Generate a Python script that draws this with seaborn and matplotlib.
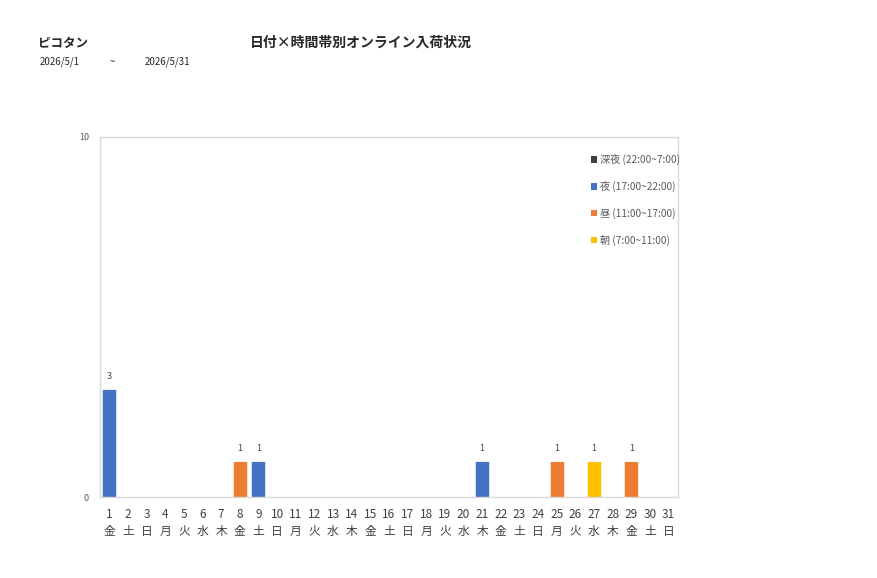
import pandas as pd
import matplotlib.pyplot as plt
import seaborn as sns
from matplotlib.patches import Patch

# chart data
days = [str(d) for d in range(1, 32)]
weekdays = ['金', '土', '日', '月', '火', '水', '木'] * 4 + ['金', '土', '日']
asa = [0] * 31      # 朝 (7:00~11:00)
hiru = [0] * 31     # 昼 (11:00~17:00)
yoru = [0] * 31     # 夜 (17:00~22:00)
shinya = [0] * 31   # 深夜 (22:00~7:00)
yoru[0] = 3
hiru[7] = 1
yoru[8] = 1
yoru[20] = 1
hiru[24] = 1
asa[26] = 1
hiru[28] = 1

series_names = ['朝 (7:00~11:00)', '昼 (11:00~17:00)', '夜 (17:00~22:00)', '深夜 (22:00~7:00)']
series_values = [asa, hiru, yoru, shinya]
series_colors = ['#FFC000', '#ED7D31', '#4472C4', '#404040']

sns.set_theme(style='white')
plt.rcParams['font.family'] = ['Noto Sans CJK JP', 'DejaVu Sans']

fig = plt.figure(figsize=(8.77, 5.78), dpi=100)
ax = fig.add_axes([0.114, 0.140, 0.659, 0.623])

# stack the series one on top of the other
df = pd.DataFrame({'day': days})
bottom = [0] * 31
for name, vals, color in zip(series_names, series_values, series_colors):
    df[name] = vals
    sns.barplot(data=df, x='day', y=name, order=days, color=color, width=0.75,
                bottom=bottom, ax=ax, saturation=1, edgecolor='white', linewidth=0.4)
    bottom = [b + v for b, v in zip(bottom, vals)]

# totals above bars
for i, total in enumerate(bottom):
    if total > 0:
        ax.text(i, total + 0.22, str(total), ha='center', va='bottom', fontsize=6.5, color='#404040')

ax.set_xlim(-0.5, 30.5)
ax.set_ylim(0, 10)
ax.set_yticks([0, 10])
ax.set_yticklabels(['0', '10'], fontsize=6.5, color='#595959')
ax.set_xticks(range(31))
ax.set_xticklabels([f'{d}\n{w}' for d, w in zip(days, weekdays)], fontsize=8.5, color='#404040',
                   linespacing=1.35)
ax.tick_params(axis='x', length=0, pad=8)
ax.tick_params(axis='y', length=0, pad=8)
ax.set_xlabel('')
ax.set_ylabel('')
for sp in ax.spines.values():
    sp.set_color('#d9d9d9')
    sp.set_linewidth(1)

# legend (top item first)
handles = [Patch(facecolor=c, edgecolor='none') for c in series_colors[::-1]]
fig.legend(handles, series_names[::-1], loc='upper left', bbox_to_anchor=(0.663, 0.749),
           frameon=False, fontsize=7.3, labelcolor='#595959', handlelength=0.6, handleheight=0.6,
           handletextpad=0.35, labelspacing=1.55)

# titles
fig.text(38 / 877, 1 - 43 / 578, 'ピコタン', fontsize=9, fontweight='bold', va='center')
fig.text(250 / 877, 1 - 43 / 578, '日付×時間帯別オンライン入荷状況', fontsize=10, fontweight='bold', va='center')
fig.text(40 / 877, 1 - 62 / 578, '2026/5/1', fontsize=7, va='center')
fig.text(110 / 877, 1 - 62 / 578, '~', fontsize=7, va='center')
fig.text(145 / 877, 1 - 62 / 578, '2026/5/31', fontsize=7, va='center')

fig.savefig('out.png', dpi=100)
